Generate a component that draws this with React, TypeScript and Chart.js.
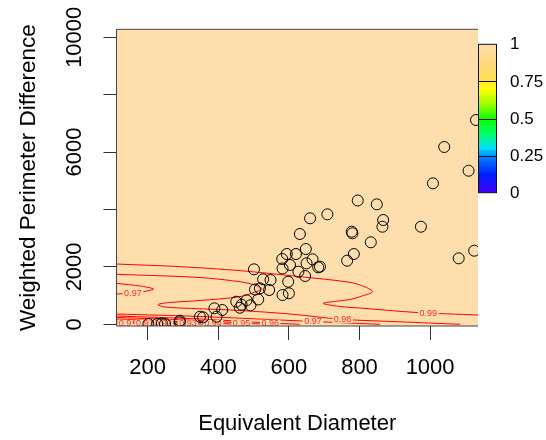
import React, { useEffect, useRef } from 'react';
import { Chart, registerables } from 'chart.js';

Chart.register(...registerables);

// ---------- data ----------
const X_TICKS = [200, 400, 600, 800, 1000];
const Y_TICKS = [0, 2000, 4000, 6000, 8000, 10000];
const Y_TICK_LABELS = ['0', '2000', '', '6000', '', '10000'];
const X_RANGE = [111.6, 1135.7];
const Y_RANGE = [-59, 10278];

const KEY_TICKS = [0, 0.25, 0.5, 0.75, 1];
const KEY_LABELS = ['0', '0.25', '0.5', '0.75', '1'];

const POINTS_X = [1130, 1040, 1109, 1008, 795, 849, 660, 709, 867, 865, 778, 780, 974, 631, 832, 784, 765, 1081, 1125, 648, 667, 650, 683, 688, 646, 594, 620, 581, 603, 582, 627, 501, 527, 548, 504, 544, 518, 582, 600, 513, 598, 451, 466, 461, 480, 491, 389, 411, 395, 348, 357, 291, 291, 202, 227, 240, 249];
const POINTS_Y = [7118, 6177, 5351, 4912, 4313, 4181, 3693, 3832, 3634, 3400, 3226, 3170, 3400, 3146, 2857, 2449, 2216, 2299, 2564, 2623, 2264, 2125, 1986, 2007, 1683, 2449, 2449, 2275, 2066, 1944, 1833, 1916, 1568, 1543, 1212, 1195, 1254, 1021, 1080, 864, 1484, 787, 683, 578, 836, 662, 557, 498, 265, 265, 244, 125, 70, 10, 10, 28, 10];

// contour lines: [x, y] along each line
const C099 = [[112, 2100], [290, 2010], [461, 1870], [631, 1660], [773, 1463], [816, 1300], [837, 1136], [801, 962], [773, 864], [697, 732], [745, 620], [801, 568], [963, 411], [1136, 324]];
const C098 = [[112, 1742], [348, 1630], [461, 1484], [504, 1369], [524, 1230], [504, 1125], [461, 962], [348, 829], [263, 760], [229, 690], [249, 603], [348, 540], [461, 481], [603, 359], [750, 174], [915, 87], [1085, 0]];
const C097A = [[112, 1428], [178, 1334], [216, 1230], [188, 1136], [150, 1080], [112, 1056]];
const C097B = [[112, 359], [348, 272], [668, 98], [858, 0]];
const C096 = [[112, 289], [348, 185], [547, 45], [631, 0]];
const C095 = [[112, 237], [348, 132], [467, 45], [532, 0]];
const C094 = [[112, 185], [385, 45], [447, 0]];
const C093 = [[112, 139], [314, 35], [363, 0]];
const C092 = [[112, 98], [249, 28], [291, 0]];
const C091 = [[112, 59], [192, 21], [221, 0]];
const C090 = [[112, 28], [150, 0]];
const CONTOURS = [C099, C098, C097A, C097B, C096, C095, C094, C093, C092, C091, C090];

const LABEL_TEXT = ['0.99', '0.98', '0.97', '0.97', '0.96', '0.95', '0.94', '0.93', '0.92', '0.91', '0.9'];
const LABEL_X = [995, 752, 668, 158, 547, 466, 385, 314, 243, 192, 136];
const LABEL_Y = [404, 174, 98, 1080, 35, 35, 35, 35, 35, 35, 35];

// ---------- style ----------
const PEACH = '#FFDEAD';
const FONT = '"Liberation Sans", Arial, Helvetica, sans-serif';
const KEY_STOPS: [number, string][] = [
  [0, '#4000FF'], [0.12, '#0020FF'], [0.24, '#0080FF'], [0.3, '#00E0FF'],
  [0.4, '#00FF60'], [0.5, '#10FF00'], [0.6, '#A0FF00'], [0.7, '#FFFF00'],
  [0.76, '#FFE050'], [0.85, '#FFD878'], [1, '#FFDEAD'],
];

const rPlugin = {
  id: 'rplot',
  beforeDraw(chart: any) {
    const { ctx, chartArea: a } = chart;
    ctx.save();
    ctx.fillStyle = PEACH;
    ctx.fillRect(a.left, a.top, a.right - a.left, a.bottom - a.top);
    ctx.restore();
  },
  beforeDatasetDraw(chart: any, args: any) {
    if (args.index !== 0) return;
    const { ctx, chartArea: a } = chart;
    const xs = chart.scales.x;
    const ys = chart.scales.y;
    ctx.save();
    ctx.beginPath();
    ctx.rect(a.left, a.top, a.right - a.left, a.bottom - a.top);
    ctx.clip();
    ctx.font = '9px ' + FONT;
    ctx.textAlign = 'center';
    ctx.textBaseline = 'middle';
    for (let i = 0; i < LABEL_TEXT.length; i++) {
      const px = xs.getPixelForValue(LABEL_X[i]);
      const py = ys.getPixelForValue(LABEL_Y[i]);
      const w = ctx.measureText(LABEL_TEXT[i]).width;
      ctx.fillStyle = PEACH;
      ctx.fillRect(px - w / 2 - 1.5, py - 3.5, w + 3, 7);
      ctx.fillStyle = '#FF2A2A';
      ctx.fillText(LABEL_TEXT[i], px, py + 0.5);
    }
    ctx.restore();
  },
  afterDraw(chart: any) {
    const { ctx, chartArea: a } = chart;
    const ys = chart.scales.y;
    ctx.save();
    // plot box (left, bottom, top)
    ctx.strokeStyle = '#444';
    ctx.lineWidth = 1;
    ctx.beginPath();
    ctx.moveTo(a.right, a.top);
    ctx.lineTo(a.left, a.top);
    ctx.lineTo(a.left, a.bottom);
    ctx.lineTo(a.right, a.bottom);
    ctx.stroke();

    // y tick labels (rotated, R style)
    ctx.fillStyle = '#000';
    ctx.font = '22px ' + FONT;
    ctx.textAlign = 'center';
    ctx.textBaseline = 'middle';
    for (let i = 0; i < Y_TICKS.length; i++) {
      if (!Y_TICK_LABELS[i]) continue;
      const py = ys.getPixelForValue(Y_TICKS[i]);
      ctx.save();
      ctx.translate(75, py);
      ctx.rotate(-Math.PI / 2);
      ctx.fillText(Y_TICK_LABELS[i], 0, 0);
      ctx.restore();
    }

    // colour key
    const kx0 = a.right + 0.5;
    const kx1 = a.right + 18.5;
    const ky1 = 44.3; // value 1
    const ky0 = 192.7; // value 0
    const kp = (v: number) => ky0 + (ky1 - ky0) * v;
    const g = ctx.createLinearGradient(0, ky0, 0, ky1);
    KEY_STOPS.forEach(([s, c]) => g.addColorStop(s, c));
    ctx.fillStyle = g;
    ctx.fillRect(kx0, ky1, kx1 - kx0, ky0 - ky1);
    ctx.strokeStyle = '#111';
    ctx.lineWidth = 1;
    for (let i = 1; i < KEY_TICKS.length - 1; i++) {
      const y = Math.round(kp(KEY_TICKS[i])) + 0.5;
      ctx.beginPath();
      ctx.moveTo(kx0, y);
      ctx.lineTo(kx1, y);
      ctx.stroke();
    }
    ctx.strokeRect(kx0, ky1, kx1 - kx0, ky0 - ky1);
    ctx.fillStyle = '#000';
    ctx.font = '17px ' + FONT;
    ctx.textAlign = 'left';
    ctx.textBaseline = 'middle';
    for (let i = 0; i < KEY_TICKS.length; i++) {
      ctx.fillText(KEY_LABELS[i], 510, kp(KEY_TICKS[i]) + 0.5);
    }
    ctx.restore();
  },
};

export default function App() {
  const ref = useRef<HTMLCanvasElement | null>(null);

  useEffect(() => {
    if (!ref.current) return;
    Chart.defaults.font.family = FONT;
    Chart.defaults.color = '#000';

    const contourSets = CONTOURS.map((c) => ({
      type: 'scatter' as const,
      data: c.map(([x, y]) => ({ x, y })),
      showLine: true,
      borderColor: '#FF0000',
      borderWidth: 1,
      pointRadius: 0,
      pointHoverRadius: 0,
      tension: 0.3,
      fill: false,
      clip: 0,
    }));

    const chart = new Chart(ref.current, {
      type: 'scatter',
      data: {
        datasets: [
          {
            data: POINTS_X.map((x, i) => ({ x, y: POINTS_Y[i] })),
            pointRadius: 5.5,
            pointHoverRadius: 5.5,
            borderColor: '#000',
            backgroundColor: 'rgba(0,0,0,0)',
            borderWidth: 1,
            clip: 0,
          } as any,
          ...(contourSets as any[]),
        ],
      },
      options: {
        responsive: false,
        animation: false,
        devicePixelRatio: 1,
        layout: { padding: { top: 29.3, right: 68, left: 0, bottom: 0 } },
        plugins: { legend: { display: false }, tooltip: { enabled: false } },
        events: [],
        scales: {
          x: {
            type: 'linear',
            min: X_RANGE[0],
            max: X_RANGE[1],
            afterBuildTicks: (s: any) => { s.ticks = X_TICKS.map((v) => ({ value: v })); },
            afterFit: (s: any) => { s.height = 114; },
            ticks: {
              font: { size: 22, family: FONT },
              color: '#000',
              padding: 14.8,
              maxRotation: 0,
              minRotation: 0,
              autoSkip: false,
              callback: (v: any) => String(v),
            },
            grid: { display: true, drawOnChartArea: false, drawTicks: true, tickLength: 14, color: '#333', tickColor: '#333' },
            border: { display: false },
            title: { display: true, text: 'Equivalent Diameter', font: { size: 22, family: FONT }, color: '#000', padding: { top: 0, bottom: 3 } },
          },
          y: {
            type: 'linear',
            min: Y_RANGE[0],
            max: Y_RANGE[1],
            afterBuildTicks: (s: any) => { s.ticks = Y_TICKS.map((v) => ({ value: v })); },
            afterFit: (s: any) => { s.width = 116.5; },
            ticks: { display: false },
            grid: { display: true, drawOnChartArea: false, drawTicks: true, tickLength: 13, color: '#333', tickColor: '#333' },
            border: { display: false },
            title: { display: true, text: 'Weighted Perimeter Difference', font: { size: 22.5, family: FONT }, color: '#000', padding: { top: 15.5, bottom: 0 } },
          },
        },
      } as any,
      plugins: [rPlugin],
    });
    return () => chart.destroy();
  }, []);

  return (
    <div style={{ position: 'absolute', left: 0, top: 0, width: 546, height: 440, background: '#fff' }}>
      <canvas ref={ref} width={546} height={440} style={{ display: 'block' }} />
    </div>
  );
}
